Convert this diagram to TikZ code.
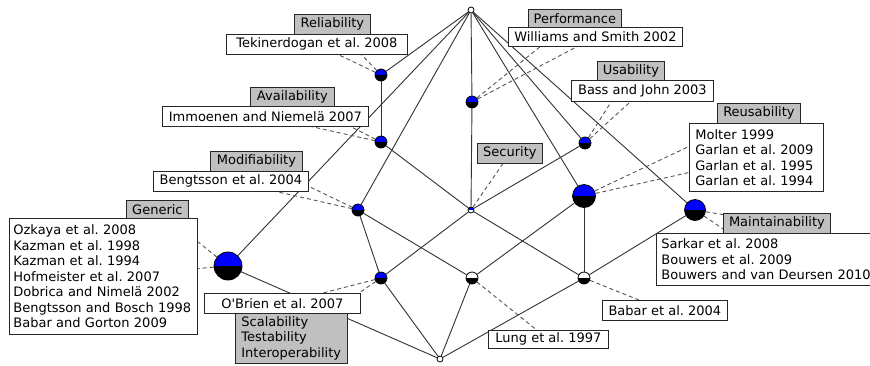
\documentclass[tikz,border=0pt]{standalone}
\usepackage{fontspec}
\newfontfamily\labfont{DejaVu Sans}
\definecolor{gfill}{RGB}{192,192,192}
\definecolor{edgec}{RGB}{50,50,50}
\definecolor{leadc}{RGB}{85,85,85}
\pgfdeclarelayer{bg}
\pgfsetlayers{bg,main}
\tikzset{
  conc/.style={circle, draw=black, line width=0.8pt, inner sep=0pt, minimum size=#1},
  nbb/.style={conc=#1, path picture={\fill[blue] (path picture bounding box.north west) rectangle (path picture bounding box.east); \fill[black] (path picture bounding box.west) rectangle (path picture bounding box.south east);}},
  nwb/.style={conc=#1, fill=white, path picture={\fill[black] (path picture bounding box.west) rectangle (path picture bounding box.south east);}},
  nbw/.style={conc=#1, fill=white, path picture={\fill[blue] (path picture bounding box.north west) rectangle (path picture bounding box.east);}},
  nempty/.style={conc=#1, fill=white},
  obox/.style={draw=black!85, line width=0.8pt, fill=white, inner sep=0pt, anchor=north west, font=\labfont\fontsize{13}{15.5}\selectfont\frenchspacing},
  abox/.style={obox, fill=gfill},
  lat/.style={draw=edgec, line width=0.9pt},
  lead/.style={draw=leadc, line width=0.9pt, dash pattern=on 4pt off 3pt},
}
\begin{document}
\begin{tikzpicture}[x=1pt,y=-1pt]
\useasboundingbox (0,0) rectangle (870,365);
% concept nodes
\node[nempty=6pt] (T) at (471,10) {};
\node[nbb=12pt] (R) at (381,75) {};
\node[nbb=12pt] (A) at (381,142) {};
\node[nbb=12pt] (M) at (358,210) {};
\node[nbb=28pt] (G) at (228,266) {};
\node[nbb=12pt] (P) at (472,102) {};
\node[nbb=12pt] (U) at (585,143) {};
\node[nbw=6pt] (S) at (471,210) {};
\node[nbb=23pt] (Re) at (584,196) {};
\node[nbb=21pt] (Ma) at (695,210) {};
\node[nbb=12pt] (OB) at (381,278) {};
\node[nwb=12pt] (L) at (472,278) {};
\node[nwb=12pt] (Bb) at (584,278) {};
\node[nempty=6pt] (B) at (440,359) {};
% labels
\node[abox, minimum width=76pt, minimum height=20pt] (gRel) at (294,14) {Reliability};
\node[obox, minimum width=181pt, minimum height=20pt] (oRel) at (226,34) {Tekinerdogan et al. 2008};
\node[abox, minimum width=84pt, minimum height=19pt] (gAva) at (250,87) {Availability};
\node[obox, minimum width=206pt, minimum height=20pt] (oAva) at (162,106) {Immoenen and Niemelä 2007};
\node[abox, minimum width=92pt, minimum height=20pt] (gMod) at (210,151) {Modifiability};
\node[obox, minimum width=155pt, minimum height=20pt] (oMod) at (153,171) {Bengtsson et al. 2004};
\node[abox, minimum width=62pt, minimum height=18pt] (gGen) at (126,200) {Generic};
\node[obox, minimum width=188pt, minimum height=116pt, text width=180pt, align=left] (oGen) at (9,218) {Ozkaya et al. 2008\\Kazman et al. 1998\\Kazman et al. 1994\\Hofmeister et al. 2007\\Dobrica and Nimelä 2002\\Bengtsson and Bosch 1998\\Babar and Gorton 2009};
\node[abox, minimum width=93pt, minimum height=18pt] (gPer) at (528,9) {Performance};
\node[obox, minimum width=174pt, minimum height=19pt] (oPer) at (508,27) {Williams and Smith 2002};
\node[abox, minimum width=67pt, minimum height=19pt] (gUsa) at (597,61) {Usability};
\node[obox, minimum width=142pt, minimum height=21pt] (oUsa) at (571,80) {Bass and John 2003};
\node[abox, minimum width=83pt, minimum height=20pt] (gReu) at (717,103) {Reusability};
\node[obox, minimum width=134pt, minimum height=68pt, text width=122pt, align=left] (oReu) at (689,123) {Molter 1999\\Garlan et al. 2009\\Garlan et al. 1995\\Garlan et al. 1994};
\node[abox, minimum width=107pt, minimum height=20pt] (gMai) at (723,213) {Maintainability};
\node[obox, minimum width=224pt, minimum height=52pt, text width=214pt, align=left] (oMai) at (656,233) {Sarkar et al. 2008\\Bouwers et al. 2009\\Bouwers and van Deursen 2010};
\node[abox, minimum width=65pt, minimum height=20pt] (gSec) at (477,143) {Security};
\node[abox, minimum width=112pt, minimum height=50pt, text width=100pt, align=left] (gOB) at (235,313) {Scalability\\Testability\\Interoperability};
\node[obox, minimum width=156pt, minimum height=20pt] (oOB) at (204,293) {O\textquotesingle Brien et al. 2007};
\node[obox, minimum width=120pt, minimum height=18pt] (oL) at (488,330) {Lung et al. 1997};
\node[obox, minimum width=125pt, minimum height=20pt] (oBb) at (602,300) {Babar et al. 2004};
\begin{pgfonlayer}{bg}
% lattice edges
\draw[lat] (T) -- (R);
\draw[lat] (T) -- (G);
\draw[lat] (T) -- (M);
\draw[lat] (T) -- (P);
\draw[lat] (T) -- (U);
\draw[lat] (T) -- (Re);
\draw[lat] (T) -- (Ma);
\draw[lat] (R) -- (A);
\draw[lat] (A) -- (S);
\draw[lat] (P) -- (S);
\draw[lat] (U) -- (S);
\draw[lat] (M) -- (OB);
\draw[lat] (M) -- (L);
\draw[lat] (G) -- (B);
\draw[lat] (S) -- (OB);
\draw[lat] (S) -- (Bb);
\draw[lat] (Re) -- (L);
\draw[lat] (Re) -- (Bb);
\draw[lat] (Ma) -- (Bb);
\draw[lat] (OB) -- (B);
\draw[lat] (L) -- (B);
\draw[lat] (Bb) -- (B);
% label leaders
\draw[lead] (R) -- (gRel.center);
\draw[lead] (R) -- (oRel.center);
\draw[lead] (A) -- (gAva.center);
\draw[lead] (A) -- (oAva.center);
\draw[lead] (M) -- (gMod.center);
\draw[lead] (M) -- (oMod.center);
\draw[lead] (G) -- (gGen.center);
\draw[lead] (G) -- (oGen.center);
\draw[lead] (P) -- (gPer.center);
\draw[lead] (P) -- (oPer.center);
\draw[lead] (U) -- (gUsa.center);
\draw[lead] (U) -- (oUsa.center);
\draw[lead] (Re) -- (gReu.center);
\draw[lead] (Re) -- (oReu.center);
\draw[lead] (Ma) -- (gMai.center);
\draw[lead] (Ma) -- (oMai.center);
\draw[lead] (S) -- (gSec.center);
\draw[lead] (OB) -- (oOB.center);
\draw[lead] (OB) -- (gOB.center);
\draw[lead] (L) -- (oL.center);
\draw[lead] (Bb) -- (oBb.center);
\end{pgfonlayer}
\end{tikzpicture}
\end{document}
